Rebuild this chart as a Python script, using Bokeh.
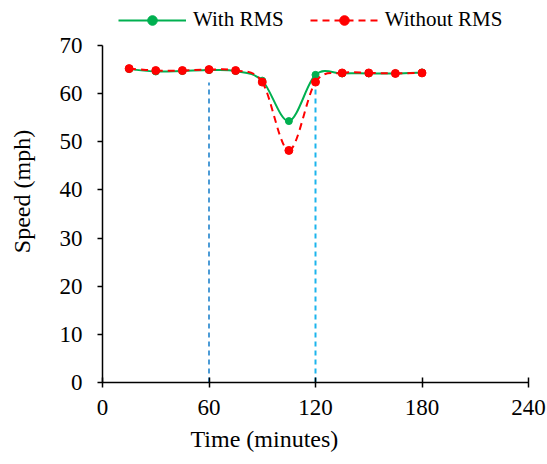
from bokeh.plotting import figure
from bokeh.models import Range1d, FixedTicker, Legend, LegendItem, Title
from bokeh.embed import file_html
from bokeh.resources import INLINE

time_min = [15, 30, 45, 60, 75, 90, 105, 120, 135, 150, 165, 180]
with_rms = [65.1, 64.6, 64.7, 64.9, 64.7, 62.7, 54.3, 63.9, 64.2, 64.2, 64.2, 64.4]
without_rms = [65.2, 64.8, 64.8, 65.0, 64.8, 62.4, 48.2, 62.4, 64.3, 64.3, 64.2, 64.3]
marker_x = [60, 120]
marker_top = [62.3, 62.3]
marker_colors = ["#4C9BD6", "#1CB4EC"]
x_ticks = [0, 60, 120, 180, 240]
y_ticks = [0, 10, 20, 30, 40, 50, 60, 70]

FONT = "Liberation Serif"


def smooth(xs, ys):
    n = len(xs)
    seg = dict(x0=[], y0=[], x1=[], y1=[], cx0=[], cy0=[], cx1=[], cy1=[])
    for i in range(n - 1):
        xm, ym = (xs[i - 1], ys[i - 1]) if i > 0 else (xs[i], ys[i])
        xp, yp = (xs[i + 2], ys[i + 2]) if i + 2 < n else (xs[i + 1], ys[i + 1])
        seg["x0"].append(xs[i]); seg["y0"].append(ys[i])
        seg["x1"].append(xs[i + 1]); seg["y1"].append(ys[i + 1])
        seg["cx0"].append(xs[i] + (xs[i + 1] - xm) / 6)
        seg["cy0"].append(ys[i] + (ys[i + 1] - ym) / 6)
        seg["cx1"].append(xs[i + 1] - (xp - xs[i]) / 6)
        seg["cy1"].append(ys[i + 1] - (yp - ys[i]) / 6)
    return seg


# frame spans the full top so the legend can sit above the 70 line;
# the y axis line itself stops at 70 (bounds)
y_top = 70 * 382 / 337

p = figure(width=547, height=464, output_backend="svg", toolbar_location=None,
           x_range=Range1d(0, 240), y_range=Range1d(0, y_top),
           min_border_left=102, min_border_right=19, min_border_bottom=82, min_border_top=0)
p.outline_line_color = None
p.xgrid.visible = False
p.ygrid.visible = False
p.background_fill_color = "white"
p.border_fill_color = "white"

# vertical markers
p.segment(x0=marker_x, y0=[0, 0], x1=marker_x, y1=marker_top, line_color=marker_colors,
          line_width=2, line_dash="5 4")

green = "#00B050"
red = "#FF0000"
sg = smooth(time_min, with_rms)
bz_g = p.bezier(line_color=green, line_width=2, **sg)
sg_g = p.scatter(time_min, with_rms, size=7, fill_color=green, line_color=green)

sr = smooth(time_min, without_rms)
bz_r = p.bezier(line_color=red, line_width=2, line_dash="7 5", **sr)
sg_r = p.scatter(time_min, without_rms, size=8, fill_color=red, line_color=red)

for ax in (p.xaxis[0], p.yaxis[0]):
    ax.axis_line_color = "black"
    ax.axis_line_width = 1.5
    ax.major_tick_line_color = "black"
    ax.major_tick_line_width = 1.5
    ax.minor_tick_line_color = None
    ax.major_label_text_font = FONT
    ax.major_label_text_font_size = "23px"
    ax.major_label_text_color = "black"
    ax.axis_label_text_font = FONT
    ax.axis_label_text_font_size = "24px"
    ax.axis_label_text_font_style = "normal"
    ax.axis_label_text_color = "black"

p.yaxis.bounds = (0, 70)
p.xaxis.ticker = FixedTicker(ticks=x_ticks)
p.yaxis.ticker = FixedTicker(ticks=y_ticks)
p.xaxis.major_tick_in = 5
p.xaxis.major_tick_out = 5
p.yaxis.major_tick_in = 0
p.yaxis.major_tick_out = 5
p.xaxis.major_label_standoff = 12
p.yaxis.major_label_standoff = 15
p.yaxis.axis_label = "Speed (mph)"
p.yaxis.axis_label_standoff = 22

xlabel = Title(text="Time (minutes)", align="left", offset=88, standoff=13,
               text_font=FONT, text_font_size="24px", text_font_style="normal",
               text_color="black")
p.add_layout(xlabel, "below")

legend = Legend(items=[
    LegendItem(label="With RMS", renderers=[bz_g, sg_g]),
    LegendItem(label="Without RMS", renderers=[bz_r, sg_r]),
], orientation="horizontal", location=(16, 350), glyph_width=68, glyph_height=24,
    label_height=24, label_standoff=7, spacing=26, padding=4, margin=0,
    label_text_font=FONT, label_text_font_size="21px", label_text_color="black",
    border_line_color=None, background_fill_alpha=0)
p.add_layout(legend)

open("out.html", "w").write(file_html(p, INLINE))
